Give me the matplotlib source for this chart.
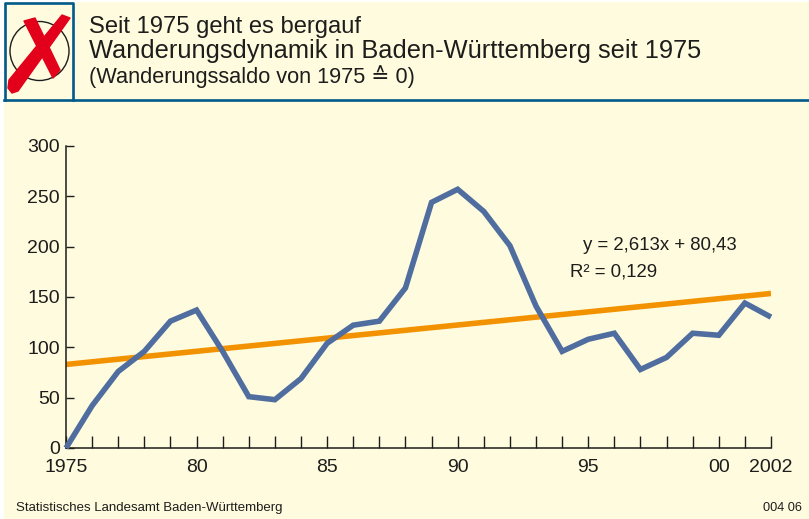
import matplotlib
matplotlib.use("Agg")
import matplotlib.pyplot as plt
from matplotlib.patches import Circle, Polygon, Rectangle

years = list(range(1975, 2003))
saldo = [0, 42, 76, 96, 126, 137, 96, 51, 48, 69, 104, 122, 126, 159,
         244, 257, 235, 201, 141, 96, 108, 114, 78, 90, 114, 112, 144, 130]
trend_years = [1975, 2002]
trend_values = [83, 153.5]
y_ticks = [0, 50, 100, 150, 200, 250, 300]
x_label_years = [1975, 1980, 1985, 1990, 1995, 2000, 2002]
x_labels = ["1975", "80", "85", "90", "95", "00", "2002"]

W, H = 809, 519
CREAM = "#FFFBDF"
BLUE = "#005A8C"
DARK = "#1D1D1B"
RED = "#E2001A"

plt.rcParams["font.family"] = ["Liberation Sans", "DejaVu Sans"]

fig = plt.figure(figsize=(W / 100, H / 100), dpi=100, facecolor="white")

# full figure overlay in pixel coordinates, y pointing down
bg = fig.add_axes([0, 0, 1, 1], zorder=0)
bg.set_xlim(0, W)
bg.set_ylim(H, 0)
bg.axis("off")
bg.add_patch(Rectangle((4, 2), W - 4, H - 2, fc=CREAM, ec="none"))

# header frame and rule
bg.plot([5, 5, 73, 73], [100, 2.5, 2.5, 100], color=BLUE, lw=1.9)
bg.plot([4, W], [100, 100], color=BLUE, lw=1.9)

# crossed circle icon
bg.add_patch(Circle((39.5, 51), 29.5, fc="none", ec=DARK, lw=1.0))
bg.add_patch(Polygon([[24, 21], [35, 18], [60, 70], [53, 78]], fc=RED, ec=RED,
                     lw=1, joinstyle="round"))
bg.add_patch(Polygon([[62, 15], [70, 18], [18, 91], [12, 93], [8, 88], [9, 80]],
                     fc=RED, ec=RED, lw=1, joinstyle="round"))

# titles
bg.text(89, 27, "Seit 1975 geht es bergauf", fontsize=17.1, color=DARK, va="center")
bg.text(89, 51, "Wanderungsdynamik in Baden-Württemberg seit 1975", fontsize=18.3,
        color=DARK, va="center")
bg.text(89, 77, "(Wanderungssaldo von 1975 ≙ 0)", fontsize=15.7, color=DARK, va="center")

# footer
bg.text(16, 508, "Statistisches Landesamt Baden-Württemberg", fontsize=9.5, color=DARK,
        va="center")
bg.text(802, 508, "004 06", fontsize=9.2, color=DARK, va="center", ha="right")

# equation
bg.text(583, 245, "y = 2,613x + 80,43", fontsize=13.4, color=DARK, va="center")
bg.text(570, 272, "R² = 0,129", fontsize=13.4, color=DARK, va="center")

# chart
ax = fig.add_axes([66 / W, 1 - 448 / H, (771 - 66) / W, (448 - 146) / H], zorder=1)
ax.patch.set_alpha(0)
ax.plot(trend_years, trend_values, color="#F39200", lw=4, solid_capstyle="butt", zorder=2)
ax.plot(years, saldo, color="#4F6D9F", lw=4, solid_joinstyle="miter",
        solid_capstyle="butt", zorder=3, clip_on=False)

ax.set_xlim(1975, 2002)
ax.set_ylim(0, 300)
ax.spines["top"].set_visible(False)
ax.spines["right"].set_visible(False)
ax.spines["left"].set_color(DARK)
ax.spines["bottom"].set_color(DARK)
ax.spines["left"].set_linewidth(1.1)
ax.spines["bottom"].set_linewidth(1.1)

# ticks stand inside the axis on both sides
ax.set_yticks(y_ticks)
ax.tick_params(axis="y", direction="in", length=6, width=1, color=DARK, pad=4.5,
               labelsize=14, labelcolor=DARK)
ax.set_xticks(years)
ax.set_xticklabels([])
ax.tick_params(axis="x", direction="in", length=8.5, width=1, color=DARK)
for year, label in zip(x_label_years, x_labels):
    ax.annotate(label, (year, 0), xytext=(0, -8), textcoords="offset points",
                ha="center", va="top", fontsize=14, color=DARK)

fig.savefig("out.png", dpi=100)
